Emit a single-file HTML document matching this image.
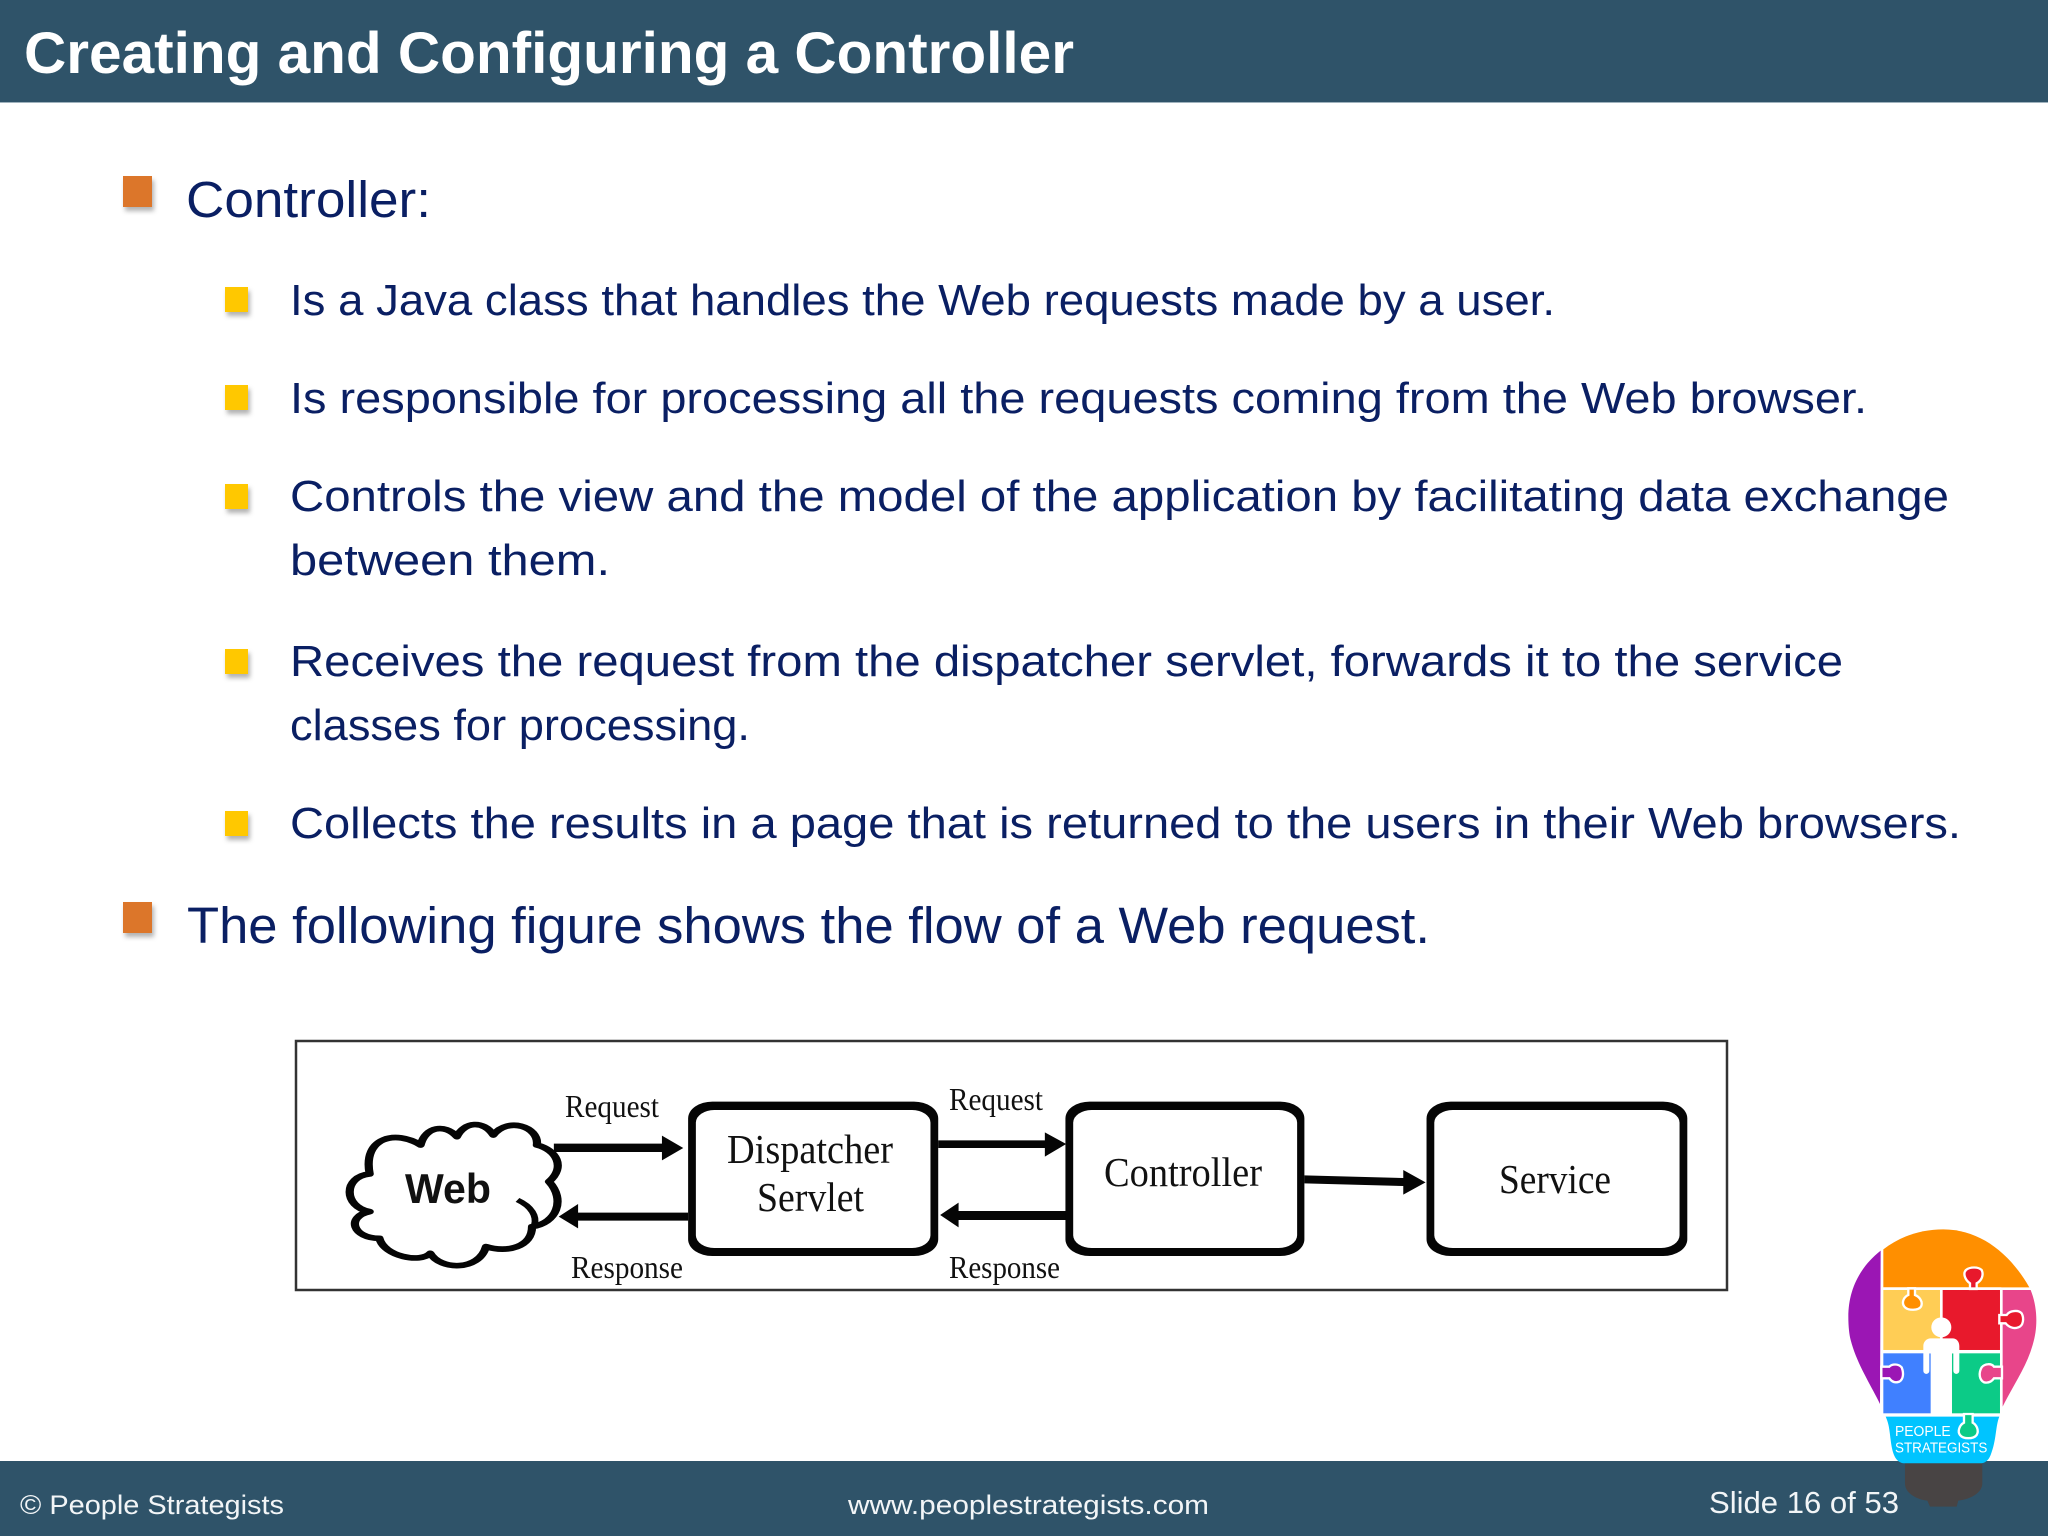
<!DOCTYPE html>
<html><head><meta charset="utf-8"><title>Creating and Configuring a Controller</title>
<style>html,body{margin:0;padding:0;background:#fff;width:2048px;height:1536px;overflow:hidden}svg{display:block}
.t{font-family:"Liberation Sans",sans-serif}
.s{font-family:"Liberation Serif",serif;fill:#111}
.m{font-size:51px;fill:#0a1f63}.b{font-size:44px;fill:#0a1f63}</style></head><body>
<svg xmlns="http://www.w3.org/2000/svg" width="2048" height="1536" viewBox="0 0 2048 1536">
<defs><filter id="sh" x="-30%" y="-30%" width="170%" height="170%"><feDropShadow dx="2" dy="4" stdDeviation="2.5" flood-color="#000" flood-opacity=".3"/></filter></defs>
<rect width="2048" height="1536" fill="#fff"/>
<rect width="2048" height="102" fill="#2f5369"/>
<rect y="102" width="2048" height="1" fill="#9fb2bd"/>
<text class="t" x="24" y="73" font-size="58" font-weight="700" fill="#fff" textLength="1050" lengthAdjust="spacingAndGlyphs">Creating and Configuring a Controller</text>

<g filter="url(#sh)"><rect x="123" y="176" width="29" height="31" fill="#dc762b"/><rect x="123" y="902" width="29" height="31" fill="#dc762b"/></g>
<g filter="url(#sh)" fill="#ffc800"><rect x="225" y="287" width="23" height="25"/><rect x="225" y="385" width="23" height="25"/><rect x="225" y="484" width="23" height="25"/><rect x="225" y="649" width="23" height="25"/><rect x="225" y="811" width="23" height="25"/></g>

<text class="t m" x="186" y="217" textLength="245" lengthAdjust="spacingAndGlyphs">Controller:</text>
<text class="t b" x="290" y="315" textLength="1265" lengthAdjust="spacingAndGlyphs">Is a Java class that handles the Web requests made by a user.</text>
<text class="t b" x="290" y="413" textLength="1577" lengthAdjust="spacingAndGlyphs">Is responsible for processing all the requests coming from the Web browser.</text>
<text class="t b" x="290" y="511" textLength="1659" lengthAdjust="spacingAndGlyphs">Controls the view and the model of the application by facilitating data exchange</text>
<text class="t b" x="290" y="575" textLength="320" lengthAdjust="spacingAndGlyphs">between them.</text>
<text class="t b" x="290" y="676" textLength="1553" lengthAdjust="spacingAndGlyphs">Receives the request from the dispatcher servlet, forwards it to the service</text>
<text class="t b" x="290" y="740" textLength="460" lengthAdjust="spacingAndGlyphs">classes for processing.</text>
<text class="t b" x="290" y="838" textLength="1671" lengthAdjust="spacingAndGlyphs">Collects the results in a page that is returned to the users in their Web browsers.</text>
<text class="t m" x="187" y="943" textLength="1243" lengthAdjust="spacingAndGlyphs">The following figure shows the flow of a Web request.</text>

<!-- Diagram -->
<rect x="296" y="1041" width="1431" height="249" fill="#fff" stroke="#333" stroke-width="2.5"/>
<g transform="translate(280 1020) scale(.4847 .3333)">
  <path d="M565 371H788V347L832 384L788 421V396H565Z" fill="#050505"/>
  <path d="M842 602H615V625L575 590L615 552V578H842Z" fill="#050505"/>
  <path d="M1358 361H1578V337L1622 372L1578 410V384H1358Z" fill="#050505"/>
  <path d="M1630 600H1400V622L1362 585L1400 548V573H1630Z" fill="#050505"/>
  <rect x="842" y="245" width="516" height="463" rx="50" ry="50" fill="#050505"/><rect x="858" y="270" width="484" height="414" rx="38" ry="38" fill="#fff"/>
  <path d="M185 462C130 470 130 560 185 575C135 590 150 655 205 655C215 710 290 730 310 700C330 750 410 755 425 680C470 700 520 680 520 620C570 610 590 540 555 485C590 440 570 390 530 375C535 320 470 290 440 345C420 300 380 305 365 350C340 310 300 320 290 375C240 330 170 350 185 462Z" fill="#fff" stroke="#050505" stroke-width="17" stroke-linejoin="round"/>
  <path d="M490 540C520 560 530 590 525 615" fill="none" stroke="#050505" stroke-width="14"/>
</g>
<g transform="translate(1000 1020) scale(.4847 .3333)">
  <rect x="135" y="245" width="493" height="463" rx="50" ry="50" fill="#050505"/><rect x="151" y="270" width="462" height="414" rx="38" ry="38" fill="#fff"/>
  <rect x="880" y="245" width="538" height="463" rx="50" ry="50" fill="#050505"/><rect x="896" y="270" width="506" height="414" rx="38" ry="38" fill="#fff"/>
  <path d="M628 466L832 474V450L878 487L832 524V498L628 490Z" fill="#050505"/>
</g>
<text class="s" x="565" y="1117" font-size="32" textLength="94" lengthAdjust="spacingAndGlyphs">Request</text>
<text class="s" x="949" y="1110" font-size="32" textLength="94" lengthAdjust="spacingAndGlyphs">Request</text>
<text class="s" x="571" y="1278" font-size="32" textLength="112" lengthAdjust="spacingAndGlyphs">Response</text>
<text class="s" x="949" y="1278" font-size="32" textLength="111" lengthAdjust="spacingAndGlyphs">Response</text>
<text class="s" x="727" y="1163" font-size="41" textLength="166" lengthAdjust="spacingAndGlyphs">Dispatcher</text>
<text class="s" x="757" y="1211" font-size="41" textLength="107" lengthAdjust="spacingAndGlyphs">Servlet</text>
<text class="s" x="1104" y="1186" font-size="41" textLength="158" lengthAdjust="spacingAndGlyphs">Controller</text>
<text class="s" x="1499" y="1193" font-size="41" textLength="112" lengthAdjust="spacingAndGlyphs">Service</text>
<text class="t" x="405" y="1203" font-size="42" font-weight="700" fill="#111" textLength="86" lengthAdjust="spacingAndGlyphs">Web</text>

<!-- Footer -->
<rect y="1461" width="2048" height="75" fill="#2f5369"/>
<text class="t" x="20" y="1514" font-size="27" fill="#f2f5f7" textLength="264" lengthAdjust="spacingAndGlyphs">© People Strategists</text>
<text class="t" x="848" y="1514" font-size="27" fill="#f2f5f7" textLength="361" lengthAdjust="spacingAndGlyphs">www.peoplestrategists.com</text>
<text class="t" x="1709" y="1513" font-size="31" fill="#f2f5f7" textLength="190" lengthAdjust="spacingAndGlyphs">Slide 16 of 53</text>

<!-- Logo -->
<g transform="translate(1840 1220) scale(.3333)">
  <path d="M195 725H427V790C427 820 390 838 355 842L350 860H270L262 842C230 838 195 820 195 790Z" fill="#484444"/>
  <path d="M130 88C180 50 240 28 310 28C420 28 510 100 568 202H130Z" fill="#ff8f00"/>
  <path d="M122 92C55 145 25 215 25 290C25 320 28 345 32 360C50 430 90 490 120 552Z" fill="#9b16b4"/>
  <path d="M488 210H572C592 260 595 320 578 375C560 440 520 495 488 560Z" fill="#e8458a"/>
  <rect x="130" y="210" width="170" height="180" fill="#ffcd55"/>
  <rect x="308" y="210" width="172" height="180" fill="#e8192c"/>
  <rect x="130" y="400" width="145" height="180" fill="#4080ff"/>
  <rect x="333" y="400" width="147" height="180" fill="#0ccb87"/>
  <path d="M137 590H478C466 620 470 660 452 705C445 722 435 730 420 730H190C165 725 157 700 152 660C148 625 146 610 137 590Z" fill="#00c4ff"/>
  <g stroke="#fff" stroke-width="7">
    <path d="M390 207V190C375 180 368 160 378 150C390 140 415 140 425 150C432 165 425 182 410 190V207Z" fill="#e8192c"/>
    <path d="M205 205V225C190 232 183 250 195 262C205 272 235 272 243 260C250 245 238 230 225 225V205Z" fill="#ff8f00"/>
    <path d="M478 285H500C508 272 535 268 545 280C553 295 550 318 535 322C520 328 505 320 497 310H478Z" fill="#e8192c"/>
    <path d="M124 440H148C155 432 175 430 185 442C192 460 190 478 178 485C165 490 155 485 148 475H124Z" fill="#9b16b4"/>
    <path d="M486 440H462C455 430 435 430 425 442C415 460 418 480 432 487C445 490 455 485 462 475H486Z" fill="#e8458a"/>
    <path d="M372 582V608C358 615 352 635 360 645C370 658 400 658 410 645C418 632 410 615 398 608V582Z" fill="#0ccb87"/>
  </g>
  <rect x="126" y="202" width="358" height="7" fill="#fff"/>
  <rect x="126" y="391" width="358" height="8" fill="#fff"/>
  <circle cx="304" cy="322" r="30" fill="#fff"/>
  <path d="M272 355H338C350 355 358 365 358 378V452C358 465 340 465 340 452V400H336V582H272V400H268V452C268 465 250 465 250 452V378C250 365 260 355 272 355Z" fill="#fff"/>
  <text class="t" x="165" y="648" font-size="45" fill="#fff" textLength="167" lengthAdjust="spacingAndGlyphs">PEOPLE</text>
  <text class="t" x="165" y="698" font-size="45" fill="#fff" textLength="277" lengthAdjust="spacingAndGlyphs">STRATEGISTS</text>
</g>
</svg>
</body></html>
